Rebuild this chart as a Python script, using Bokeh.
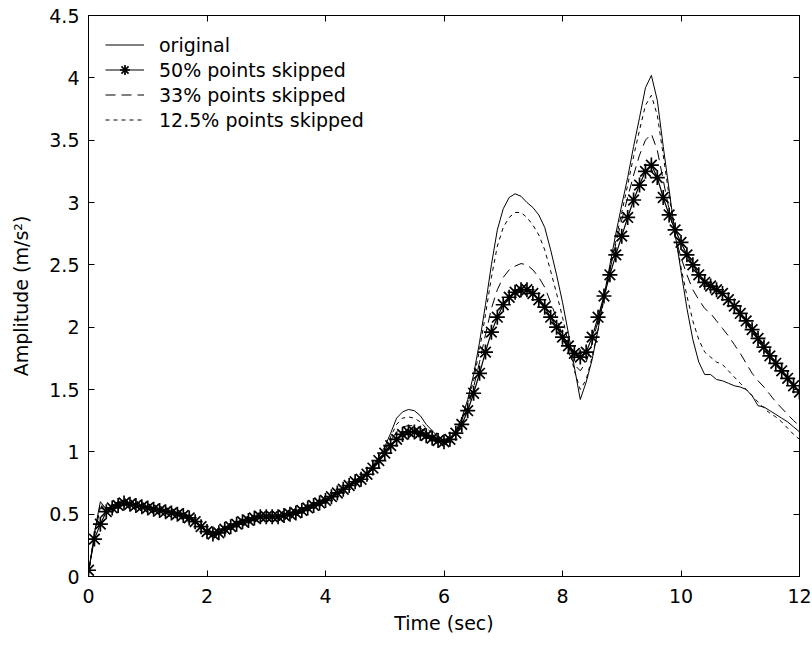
import numpy as np
from bokeh.plotting import figure
from bokeh.models import (Range1d, FixedTicker, LinearAxis, Legend, LegendItem,
                          NumeralTickFormatter, CustomJSTickFormatter)
from bokeh.embed import file_html
from bokeh.resources import INLINE

# time axis: samples every 0.1 s from 0 to 12 s
time_sec = np.linspace(0, 12, 121)

original = [
    0.02, 0.35, 0.60, 0.54, 0.57, 0.60, 0.61, 0.58, 0.58, 0.56,
    0.56, 0.54, 0.54, 0.52, 0.52, 0.50, 0.50, 0.47, 0.45, 0.40,
    0.35, 0.33, 0.36, 0.38, 0.41, 0.42, 0.45, 0.45, 0.48, 0.48,
    0.49, 0.48, 0.49, 0.49, 0.51, 0.51, 0.54, 0.55, 0.58, 0.59,
    0.62, 0.64, 0.68, 0.70, 0.74, 0.76, 0.80, 0.83, 0.89, 0.96,
    1.04, 1.15, 1.27, 1.32, 1.34, 1.33, 1.29, 1.22, 1.17, 1.12,
    1.09, 1.11, 1.17, 1.27, 1.42, 1.62, 1.88, 2.18, 2.50, 2.78,
    2.95, 3.04, 3.07, 3.05, 3.00, 2.96, 2.90, 2.80, 2.62, 2.42,
    2.20, 1.95, 1.68, 1.42, 1.56, 1.74, 1.98, 2.25, 2.50, 2.75,
    2.98, 3.20, 3.45, 3.68, 3.92, 4.02, 3.82, 3.45, 3.10, 2.75,
    2.45, 2.15, 1.90, 1.72, 1.62, 1.62, 1.58, 1.57, 1.55, 1.53,
    1.52, 1.50, 1.45, 1.37, 1.36, 1.33, 1.30, 1.27, 1.24, 1.20,
    1.16,
]

skip50 = [
    0.05, 0.30, 0.42, 0.52, 0.55, 0.57, 0.59, 0.58, 0.57, 0.56,
    0.55, 0.54, 0.53, 0.52, 0.51, 0.50, 0.49, 0.47, 0.44, 0.40,
    0.36, 0.34, 0.35, 0.38, 0.40, 0.42, 0.44, 0.45, 0.47, 0.48,
    0.48, 0.48, 0.48, 0.49, 0.50, 0.51, 0.53, 0.55, 0.57, 0.59,
    0.61, 0.64, 0.67, 0.70, 0.73, 0.76, 0.78, 0.82, 0.87, 0.93,
    0.99, 1.05, 1.10, 1.14, 1.16, 1.16, 1.15, 1.13, 1.11, 1.09,
    1.08, 1.10, 1.15, 1.22, 1.33, 1.47, 1.63, 1.80, 1.96, 2.08,
    2.18, 2.24, 2.28, 2.30, 2.30, 2.27, 2.22, 2.16, 2.08, 2.00,
    1.92, 1.85, 1.79, 1.76, 1.80, 1.92, 2.08, 2.25, 2.42, 2.58,
    2.73, 2.88, 3.02, 3.14, 3.25, 3.30, 3.20, 3.04, 2.90, 2.78,
    2.68, 2.58, 2.50, 2.42, 2.36, 2.33, 2.30, 2.27, 2.22, 2.17,
    2.11, 2.05, 1.98, 1.91, 1.84, 1.77, 1.71, 1.65, 1.59, 1.53,
    1.48,
]

skip33 = [
    0.03, 0.33, 0.55, 0.53, 0.56, 0.59, 0.60, 0.58, 0.57, 0.56,
    0.55, 0.54, 0.53, 0.52, 0.51, 0.50, 0.49, 0.47, 0.44, 0.40,
    0.35, 0.34, 0.36, 0.38, 0.40, 0.42, 0.44, 0.45, 0.47, 0.48,
    0.48, 0.48, 0.49, 0.49, 0.50, 0.51, 0.53, 0.55, 0.57, 0.59,
    0.61, 0.64, 0.67, 0.70, 0.73, 0.76, 0.79, 0.83, 0.88, 0.94,
    1.01, 1.09, 1.16, 1.20, 1.21, 1.21, 1.19, 1.16, 1.13, 1.10,
    1.09, 1.10, 1.15, 1.23, 1.35, 1.52, 1.72, 1.94, 2.15, 2.30,
    2.40, 2.46, 2.49, 2.51, 2.50, 2.46, 2.40, 2.32, 2.20, 2.07,
    1.93, 1.80, 1.70, 1.65, 1.72, 1.87, 2.05, 2.25, 2.46, 2.67,
    2.86, 3.04, 3.22, 3.38, 3.50, 3.55, 3.42, 3.18, 2.94, 2.73,
    2.56, 2.42, 2.30, 2.22, 2.15, 2.11, 2.05, 1.99, 1.93, 1.86,
    1.79, 1.71, 1.63, 1.57, 1.52, 1.46, 1.40, 1.35, 1.30, 1.25,
    1.21,
]

skip125 = [
    0.02, 0.34, 0.58, 0.54, 0.56, 0.60, 0.60, 0.58, 0.57, 0.56,
    0.56, 0.54, 0.53, 0.52, 0.52, 0.50, 0.49, 0.47, 0.45, 0.40,
    0.35, 0.33, 0.36, 0.38, 0.41, 0.42, 0.45, 0.45, 0.47, 0.48,
    0.49, 0.48, 0.49, 0.49, 0.51, 0.51, 0.54, 0.55, 0.58, 0.59,
    0.62, 0.64, 0.67, 0.70, 0.74, 0.76, 0.80, 0.83, 0.88, 0.95,
    1.02, 1.12, 1.22, 1.27, 1.28, 1.27, 1.24, 1.19, 1.15, 1.11,
    1.09, 1.11, 1.16, 1.25, 1.39, 1.58, 1.82, 2.10, 2.40, 2.65,
    2.80, 2.88, 2.92, 2.92, 2.88, 2.82, 2.74, 2.62, 2.45, 2.27,
    2.08, 1.86, 1.65, 1.50, 1.58, 1.76, 1.98, 2.22, 2.46, 2.70,
    2.92, 3.14, 3.37, 3.58, 3.78, 3.86, 3.70, 3.38, 3.05, 2.75,
    2.48, 2.25, 2.05, 1.90, 1.80, 1.76, 1.72, 1.70, 1.65, 1.60,
    1.55, 1.50, 1.45, 1.40, 1.35, 1.31, 1.28, 1.24, 1.19, 1.14,
    1.10,
]

x_ticks = [0, 2, 4, 6, 8, 10, 12]
y_ticks = [0, 0.5, 1, 1.5, 2, 2.5, 3, 3.5, 4, 4.5]

FONT = "DejaVu Sans"
FS = "19px"

p = figure(width=812, height=645, output_backend="svg", toolbar_location=None,
           x_range=Range1d(0, 12), y_range=Range1d(0, 4.5),
           min_border_left=88, min_border_right=13, min_border_top=15,
           min_border_bottom=69, background_fill_color="white",
           border_fill_color="white")
p.grid.visible = False
p.outline_line_color = "black"
p.outline_line_width = 1

for ax in (p.xaxis[0], p.yaxis[0]):
    ax.major_tick_in = 6
    ax.major_tick_out = 0
    ax.minor_tick_line_color = None
    ax.axis_line_color = "black"
    ax.major_tick_line_color = "black"
    ax.major_label_text_font = FONT
    ax.major_label_text_font_size = FS
    ax.major_label_text_color = "black"
    ax.axis_label_text_font = FONT
    ax.axis_label_text_font_size = FS
    ax.axis_label_text_font_style = "normal"
    ax.axis_label_text_color = "black"
    ax.formatter = NumeralTickFormatter(format="0.[0]")

p.xaxis[0].ticker = FixedTicker(ticks=x_ticks)
p.yaxis[0].ticker = FixedTicker(ticks=y_ticks)
p.xaxis[0].axis_label = "Time (sec)"
p.yaxis[0].axis_label = "Amplitude (m/s²)"
p.xaxis[0].major_label_standoff = 12
p.xaxis[0].axis_label_standoff = 6
p.yaxis[0].major_label_standoff = 9
p.yaxis[0].axis_label_standoff = 14

for loc, ticks in (("right", y_ticks), ("above", x_ticks)):
    ax = LinearAxis(ticker=FixedTicker(ticks=ticks), major_tick_in=6, major_tick_out=0,
                    minor_tick_line_color=None,
                    formatter=CustomJSTickFormatter(code="return ''"),
                    major_label_standoff=0, axis_line_color="black")
    p.add_layout(ax, loc)

r0 = p.line(time_sec, original, line_color="black", line_width=1)
r50l = p.line(time_sec, skip50, line_color="black", line_width=1.2)
r50s = p.scatter(time_sec, skip50, marker="asterisk", size=15, line_color="black",
                 line_width=1.7)
r33 = p.line(time_sec, skip33, line_color="black", line_width=1, line_dash="10 6")
r125 = p.line(time_sec, skip125, line_color="black", line_width=1, line_dash="4 4")

legend = Legend(items=[
    LegendItem(label="original", renderers=[r0]),
    LegendItem(label="50% points skipped", renderers=[r50l, r50s]),
    LegendItem(label="33% points skipped", renderers=[r33]),
    LegendItem(label="12.5% points skipped", renderers=[r125]),
], location="top_left", margin=17, padding=18, spacing=0,
    glyph_width=39, glyph_height=25, label_height=25, label_standoff=15,
    label_text_font=FONT, label_text_font_size=FS, label_text_color="black",
    border_line_color=None, background_fill_alpha=0)
p.add_layout(legend)

open("out.html", "w").write(file_html(p, INLINE))
